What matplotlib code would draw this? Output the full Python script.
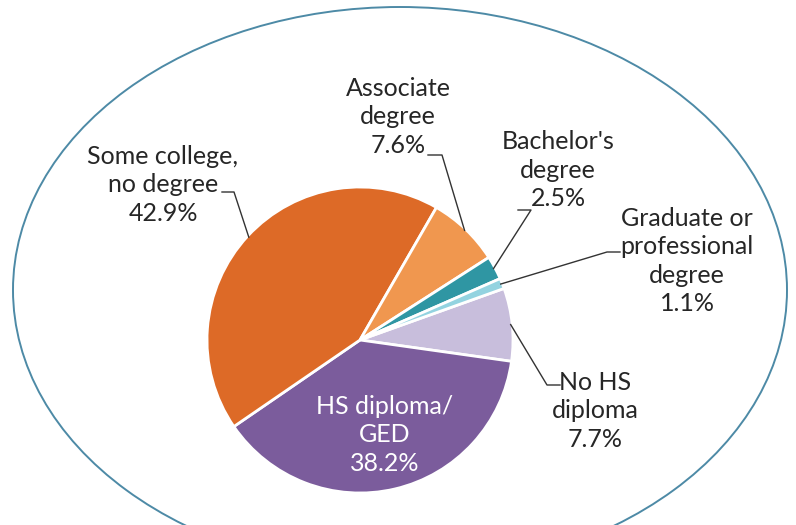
import numpy as np
import matplotlib
matplotlib.use("Agg")
import matplotlib.pyplot as plt
from matplotlib.patches import Ellipse

# ---- data ----
categories = ["No HS\ndiploma", "HS diploma/\nGED", "Some college,\nno degree",
              "Associate\ndegree", "Bachelor's\ndegree", "Graduate or\nprofessional\ndegree"]
values = [7.7, 38.2, 42.9, 7.6, 2.5, 1.1]
colors = ["#C8BEDC", "#7B5C9C", "#DD6A27", "#F0974F", "#2F96A3", "#93D3E0"]

# ---- layout (pixel-based coordinates, y up) ----
W, H = 796, 525
fig = plt.figure(figsize=(W / 100, H / 100), dpi=100)
ax = fig.add_axes([0, 0, 1, 1])

cx, cy, r = 360, H - 340, 153
startangle = 19.7

wedges, _ = ax.pie(values, colors=colors, startangle=startangle, counterclock=False,
                   center=(cx, cy), radius=r,
                   wedgeprops=dict(edgecolor="white", linewidth=2.0))

ax.set_xlim(0, W)
ax.set_ylim(0, H)
ax.set_aspect("equal")
ax.axis("off")

ax.add_patch(Ellipse((400, H - 290), 774, 566, fill=False,
                     edgecolor="#4D8AA6", linewidth=1.4, clip_on=False))

font = "Lato"
fs = 18
txtc = "#262626"
ls = 1.28

def pct(v):
    return f"{v:.1f}%"

# label centres (pixel, y-down) and leader-line polyline start (pixel, y-down)
label_pos = {
    0: (595, 411),
    1: (385, 435),
    2: (163, 185),
    3: (398, 117),
    4: (558, 170),
    5: (687, 261),
}
leader_start = {
    0: [(560, 385), (547, 385)],
    2: [(222, 192), (234, 192)],
    3: [(428, 155), (442, 155)],
    4: [(518, 210), (531, 210)],
    5: [(620, 252), (607, 252)],
}

for i, w in enumerate(wedges):
    lx, ly = label_pos[i]
    txt = categories[i] + "\n" + pct(values[i])
    color = "white" if i == 1 else txtc
    ax.text(lx, H - ly, txt, ha="center", va="center", fontsize=fs,
            family=font, color=color, linespacing=ls)
    if i in leader_start:
        theta = np.deg2rad((w.theta1 + w.theta2) / 2)
        # point slightly inside edge
        ex = cx + r * 0.99 * np.cos(theta)
        ey = cy + r * 0.99 * np.sin(theta)
        pts = leader_start[i]
        xs = [p[0] for p in pts] + [ex]
        ys = [H - p[1] for p in pts] + [ey]
        ax.plot(xs, ys, color="#333333", linewidth=1.0)

fig.savefig("out.png", dpi=100, facecolor="white")
